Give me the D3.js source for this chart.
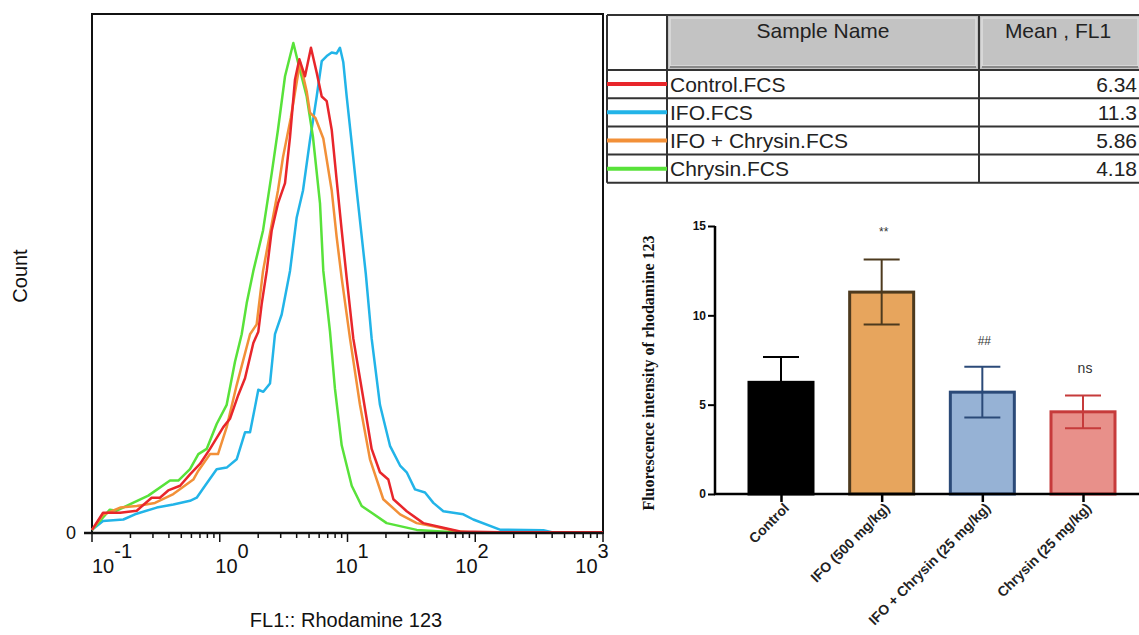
<!DOCTYPE html>
<html>
<head>
<meta charset="utf-8">
<script src="https://cdn.jsdelivr.net/npm/d3@7"></script>
<style>
  body { margin: 0; background: #fff; }
  text { font-family: Arial, "Liberation Sans", sans-serif; }
  text.serif { font-family: "Liberation Serif", "Times New Roman", serif; }
</style>
</head>
<body>
<script>
// histogram traces, [FL1 value, count as % of max]
var controlTrace = [[0.1,0.6],[0.122,3.9],[0.166,3.9],[0.224,4.3],[0.293,6.8],[0.34,6.8],[0.395,8.2],[0.489,9.1],[0.585,11.3],[0.7,13.3],[0.839,16.2],[1.066,20.4],[1.202,22.0],[1.397,26.6],[1.577,29.8],[1.832,36.6],[2.004,38.8],[2.129,44.1],[2.333,50.5],[2.551,58.3],[2.856,63.5],[3.243,67.4],[3.548,76.3],[3.882,87.4],[4.198,91.3],[4.648,88.0],[5.176,93.5],[5.739,88.7],[6.283,84.1],[6.876,83.2],[7.522,77.7],[8.226,68.0],[9.007,58.3],[9.857,49.1],[11.1,37.5],[13.3,25.9],[15.45,16.2],[17.95,11.7],[20.87,10.3],[22.86,6.5],[29.07,4.2],[39.19,1.9],[56.26,1.0],[76,0.3],[156,0.15],[1000,0.15]];
var ifoTrace = [[0.1,0.6],[0.122,2.3],[0.176,2.6],[0.217,3.6],[0.321,4.9],[0.433,5.5],[0.585,6.2],[0.66,6.8],[0.767,9.1],[0.946,12.3],[1.133,12.6],[1.357,14.2],[1.577,19.4],[1.726,19.4],[1.888,24.3],[2.004,27.6],[2.193,27.2],[2.473,28.8],[2.706,38.3],[3.053,42.1],[3.548,50.5],[4.003,60.8],[4.484,66.0],[5.085,75.7],[5.739,84.1],[6.283,90.9],[6.876,91.9],[7.522,92.6],[8.226,92.4],[8.73,93.5],[9.272,90.7],[9.857,84.1],[10.79,75.1],[11.8,66.0],[13.9,50.0],[15.45,37.5],[17.95,24.7],[21.51,16.8],[25.79,13.0],[29.07,11.7],[33.75,8.4],[40.44,7.8],[46.99,5.8],[56.26,4.2],[80.59,3.6],[96.5,2.6],[156,0.64],[341.5,0.52],[421,0]];
var comboTrace = [[0.1,0.6],[0.122,3.5],[0.166,4.9],[0.224,5.2],[0.311,5.8],[0.433,7.5],[0.621,10.3],[0.68,12.0],[0.839,15.2],[0.969,15.2],[1.133,20.4],[1.357,28.5],[1.726,38.3],[1.945,40.2],[2.182,50.5],[2.856,66.0],[3.126,72.4],[3.6,80.0],[4.249,90.7],[4.8,85.0],[5.085,81.0],[5.6,80.0],[6.466,76.0],[7.522,66.0],[8.226,57.0],[9.007,49.1],[10.46,37.5],[12.52,24.7],[15.0,14.2],[19.06,6.5],[25.79,3.6],[34.81,1.9],[46.99,1.3],[71.56,0.33],[100,0.05]];
var chrysinTrace = [[0.1,0.6],[0.138,4.5],[0.156,4.3],[0.209,5.8],[0.276,7.2],[0.408,10.1],[0.474,10.1],[0.585,12.3],[0.68,15.2],[0.79,16.2],[0.946,21.0],[1.133,24.7],[1.316,33.0],[1.485,38.3],[1.626,44.3],[1.832,50.5],[2.182,58.3],[2.551,69.3],[2.856,77.7],[3.243,88.0],[3.767,94.4],[4.098,90.7],[4.793,84.1],[5.366,76.3],[6.092,63.5],[6.466,50.5],[7.295,38.8],[7.976,27.8],[9.007,16.9],[10.79,9.1],[12.91,5.2],[15.45,3.9],[20.26,1.9],[34.81,0.6],[63.4,0.2],[80,0]];

var xDecades = [0.1, 1, 10, 100, 1000];
var xDecadeExp = ["-1", "0", "1", "2", "3"];

// table
var sampleNames = ["Control.FCS", "IFO.FCS", "IFO + Chrysin.FCS", "Chrysin.FCS"];
var meanFL1 = ["6.34", "11.3", "5.86", "4.18"];

// bar chart
var barGroups = ["Control", "IFO (500 mg/kg)", "IFO + Chrysin (25 mg/kg)", "Chrysin (25 mg/kg)"];
var barMeans = [6.25, 11.3, 5.7, 4.6];
var barSD = [1.42, 1.82, 1.42, 0.92];
var barSig = ["", "**", "##", "ns"];
var barTicks = [0, 5, 10, 15];

var traceColors = ["#e8262b", "#22b4e8", "#f29038", "#58e23a"];
var barFill = ["#000000", "#e7a55d", "#96b2d5", "#e8908a"];
var barStroke = ["#000000", "#4d3a1e", "#2b4a78", "#c63b3b"];

var svg = d3.select("body")
            .append("svg")
            .attr("width", 1139)
            .attr("height", 635);

// ---------- histogram ----------
var x = d3.scaleLog().domain([0.1, 1000]).range([92, 603]);
var xLab = d3.scaleLog().domain([0.1, 1000]).range([112, 592]);
var y = d3.scaleLinear().domain([0, 100]).range([533, 14]);

var hist = svg.append("g");

hist.append("rect")
    .attr("x", x(0.1))
    .attr("y", y(100))
    .attr("width", x(1000) - x(0.1))
    .attr("height", y(0) - y(100))
    .attr("fill", "none")
    .attr("stroke", "#111")
    .attr("stroke-width", 2);

var line = d3.line()
             .x(function(d) { return x(d[0]); })
             .y(function(d) { return y(d[1]); });

var traces = [ifoTrace, chrysinTrace, comboTrace, controlTrace];
var traceCol = [traceColors[1], traceColors[3], traceColors[2], traceColors[0]];

hist.selectAll("path.trace")
    .data(traces)
    .enter()
    .append("path")
    .attr("class", "trace")
    .attr("d", line)
    .attr("fill", "none")
    .attr("stroke", function(d, i) { return traceCol[i]; })
    .attr("stroke-width", 2.5)
    .attr("stroke-linejoin", "round");

// x axis, log ticks
hist.append("line")
    .attr("x1", x(0.1) - 8).attr("x2", x(1000))
    .attr("y1", y(0)).attr("y2", y(0))
    .attr("stroke", "#111")
    .attr("stroke-width", 2.5);

hist.selectAll("line.tick")
    .data(x.ticks())
    .enter()
    .append("line")
    .attr("class", "tick")
    .attr("x1", function(d) { return x(d); })
    .attr("x2", function(d) { return x(d); })
    .attr("y1", y(0))
    .attr("y2", function(d) {
      var major = Math.abs(Math.log10(d) - Math.round(Math.log10(d))) < 1e-6;
      return y(0) + (major ? 9 : 5);
    })
    .attr("stroke", "#111")
    .attr("stroke-width", 1.5);

var decLab = hist.selectAll("text.dec")
    .data(xDecades)
    .enter()
    .append("text")
    .attr("class", "dec")
    .attr("x", function(d) { return xLab(d); })
    .attr("y", 573)
    .attr("text-anchor", "middle")
    .attr("font-size", 20)
    .attr("fill", "#111");

decLab.append("tspan").text("10");
decLab.append("tspan")
      .attr("dy", -15)
      .text(function(d, i) { return xDecadeExp[i]; });

hist.append("text")
    .attr("x", 71)
    .attr("y", 539)
    .attr("text-anchor", "middle")
    .attr("font-size", 18)
    .attr("fill", "#111")
    .text("0");

hist.append("text")
    .attr("transform", "translate(27,276) rotate(-90)")
    .attr("text-anchor", "middle")
    .attr("font-size", 20)
    .attr("fill", "#111")
    .text("Count");

hist.append("text")
    .attr("x", 346)
    .attr("y", 627)
    .attr("text-anchor", "middle")
    .attr("font-size", 20)
    .attr("fill", "#111")
    .text("FL1:: Rhodamine 123");

// ---------- table ----------
var tab = svg.append("g");
var colX = [607, 667, 979, 1141];
var rowY = d3.scaleLinear().domain([0, 1]).range([70, 98.2]);

tab.append("rect")
    .attr("x", colX[0]).attr("y", 15)
    .attr("width", colX[1] - colX[0]).attr("height", 55)
    .attr("fill", "#fff");

[1, 2].forEach(function(c) {
  tab.append("rect")
     .attr("x", colX[c]).attr("y", 15)
     .attr("width", colX[c + 1] - colX[c]).attr("height", 55)
     .attr("fill", "#c3c3c3");
  tab.append("rect")
     .attr("x", colX[c] + 3).attr("y", 18)
     .attr("width", colX[c + 1] - colX[c] - 6).attr("height", 48)
     .attr("fill", "none")
     .attr("stroke", "#dedede")
     .attr("stroke-width", 1.5);
  tab.append("line")
     .attr("x1", colX[c] + 3).attr("x2", colX[c + 1] - 3)
     .attr("y1", 67).attr("y2", 67)
     .attr("stroke", "#8a8a8a")
     .attr("stroke-width", 2);
});

tab.append("text")
   .attr("x", (colX[1] + colX[2]) / 2)
   .attr("y", 38)
   .attr("text-anchor", "middle")
   .attr("font-size", 21)
   .attr("fill", "#222")
   .text("Sample Name");

tab.append("text")
   .attr("x", (colX[2] + colX[3]) / 2 - 2)
   .attr("y", 38)
   .attr("text-anchor", "middle")
   .attr("font-size", 21)
   .attr("fill", "#222")
   .text("Mean , FL1");

// grid lines
tab.append("line")
   .attr("x1", colX[0]).attr("x2", 1139)
   .attr("y1", 15).attr("y2", 15)
   .attr("stroke", "#333").attr("stroke-width", 2);

tab.selectAll("line.row")
   .data(d3.range(sampleNames.length + 1))
   .enter()
   .append("line")
   .attr("class", "row")
   .attr("x1", colX[0]).attr("x2", 1139)
   .attr("y1", function(d) { return rowY(d); })
   .attr("y2", function(d) { return rowY(d); })
   .attr("stroke", "#333")
   .attr("stroke-width", 2);

[0, 1, 2].forEach(function(c) {
  tab.append("line")
     .attr("x1", colX[c]).attr("x2", colX[c])
     .attr("y1", 15).attr("y2", rowY(sampleNames.length))
     .attr("stroke", "#333")
     .attr("stroke-width", 2);
});

tab.selectAll("line.swatch")
   .data(sampleNames)
   .enter()
   .append("line")
   .attr("class", "swatch")
   .attr("x1", colX[0]).attr("x2", colX[1])
   .attr("y1", function(d, i) { return rowY(i + 0.5); })
   .attr("y2", function(d, i) { return rowY(i + 0.5); })
   .attr("stroke", function(d, i) { return traceColors[i]; })
   .attr("stroke-width", 4);

tab.selectAll("text.name")
   .data(sampleNames)
   .enter()
   .append("text")
   .attr("class", "name")
   .attr("x", colX[1] + 3)
   .attr("y", function(d, i) { return rowY(i + 0.5) + 7.5; })
   .attr("font-size", 21)
   .attr("fill", "#222")
   .text(function(d) { return d; });

tab.selectAll("text.mean")
   .data(meanFL1)
   .enter()
   .append("text")
   .attr("class", "mean")
   .attr("x", 1137)
   .attr("y", function(d, i) { return rowY(i + 0.5) + 7.5; })
   .attr("text-anchor", "end")
   .attr("font-size", 21)
   .attr("fill", "#222")
   .text(function(d) { return d; });

// ---------- bar chart ----------
var bx = d3.scalePoint().domain(barGroups).range([781, 1083]);
var by = d3.scaleLinear().domain([0, 15]).range([494, 226]);
var barW = 64;
var bars = svg.append("g");

bars.selectAll("rect.bar")
    .data(barMeans)
    .enter()
    .append("rect")
    .attr("class", "bar")
    .attr("x", function(d, i) { return bx(barGroups[i]) - barW / 2; })
    .attr("y", function(d) { return by(d); })
    .attr("width", barW)
    .attr("height", function(d) { return by(0) - by(d); })
    .attr("fill", function(d, i) { return barFill[i]; })
    .attr("stroke", function(d, i) { return barStroke[i]; })
    .attr("stroke-width", 3);

var err = bars.selectAll("g.err")
    .data(barMeans)
    .enter()
    .append("g")
    .attr("class", "err")
    .attr("stroke", function(d, i) { return barStroke[i]; })
    .attr("stroke-width", 2);

err.append("line")
   .attr("x1", function(d, i) { return bx(barGroups[i]); })
   .attr("x2", function(d, i) { return bx(barGroups[i]); })
   .attr("y1", function(d, i) { return by(d - barSD[i]); })
   .attr("y2", function(d, i) { return by(d + barSD[i]); });

[-1, 1].forEach(function(s) {
  err.append("line")
     .attr("x1", function(d, i) { return bx(barGroups[i]) - 18; })
     .attr("x2", function(d, i) { return bx(barGroups[i]) + 18; })
     .attr("y1", function(d, i) { return by(d + s * barSD[i]); })
     .attr("y2", function(d, i) { return by(d + s * barSD[i]); });
});

bars.selectAll("text.sig")
    .data(barSig)
    .enter()
    .append("text")
    .attr("class", "sig")
    .attr("x", function(d, i) { return bx(barGroups[i]) + 2; })
    .attr("y", function(d, i) {
      var off = d === "**" ? 24 : 22;
      return by(barMeans[i] + barSD[i]) - off;
    })
    .attr("text-anchor", "middle")
    .attr("font-size", function(d) { return d === "ns" ? 14 : 12; })
    .attr("fill", "#333")
    .text(function(d) { return d; });

var yAxis = bars.append("g")
    .attr("transform", "translate(715,0)")
    .call(d3.axisLeft(by).tickValues(barTicks).tickSize(7).tickPadding(2));
yAxis.select(".domain").attr("stroke-width", 2.5).attr("d", "M0," + by(15) + "V" + by(0));
yAxis.selectAll(".tick line").attr("stroke-width", 2);
yAxis.selectAll(".tick text")
     .attr("font-size", 12)
     .attr("font-weight", "bold")
     .attr("font-family", "Arial, sans-serif")
     .attr("fill", "#111");

var xAxis = bars.append("g")
    .attr("transform", "translate(0," + by(0) + ")")
    .call(d3.axisBottom(bx).tickSize(8).tickFormat(""));
xAxis.select(".domain").attr("stroke-width", 2.5).attr("d", "M714,0H1139");
xAxis.selectAll(".tick line").attr("stroke-width", 2.5);

bars.selectAll("text.cat")
    .data(barGroups)
    .enter()
    .append("text")
    .attr("class", "cat")
    .attr("transform", function(d) { return "translate(" + (bx(d) + 9) + "," + (by(0) + 15) + ") rotate(-45)"; })
    .attr("text-anchor", "end")
    .attr("font-size", 14)
    .attr("font-weight", "bold")
    .attr("fill", "#222")
    .text(function(d) { return d; });

bars.append("text")
    .attr("class", "serif")
    .attr("transform", "translate(654,373) rotate(-90)")
    .attr("text-anchor", "middle")
    .attr("font-weight", "bold")
    .attr("font-size", 16)
    .attr("fill", "#111")
    .text("Fluorescence intensity of rhodamine 123");
</script>
</body>
</html>
